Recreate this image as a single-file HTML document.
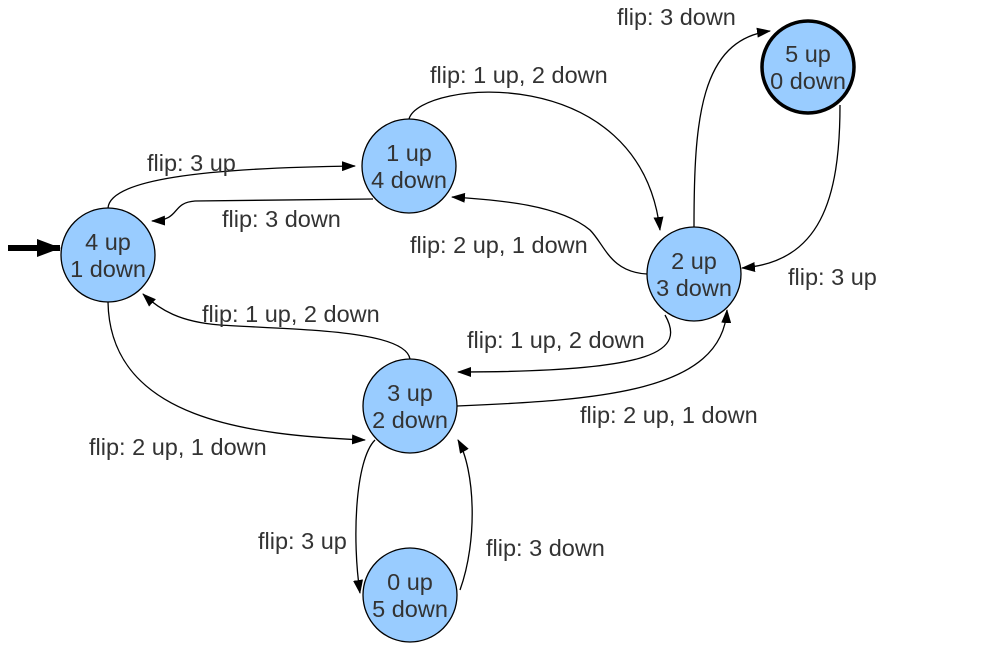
<!DOCTYPE html>
<html><head><meta charset="utf-8"><style>html,body{margin:0;padding:0;background:#fff}</style></head>
<body>
<svg width="987" height="644" viewBox="0 0 987 644" xmlns="http://www.w3.org/2000/svg" font-family="Liberation Sans, sans-serif" font-size="23.5">
<defs>
<marker id="a" markerWidth="14" markerHeight="10" refX="13" refY="5" orient="auto" markerUnits="userSpaceOnUse"><path d="M0,0 L14,5 L0,10 z" fill="#000"/></marker>
<marker id="b" markerWidth="24" markerHeight="18" refX="23" refY="9" orient="auto" markerUnits="userSpaceOnUse"><path d="M0,0 L24,9 L0,18 z" fill="#000"/></marker>
</defs>
<g fill="none" stroke="#000" stroke-width="1.3" marker-end="url(#a)">
<path d="M108,208 C110,180 200,168 355,166"/>
<path d="M373,199 L195,201 C170,203 182,220 152,221"/>
<path d="M409,119 C420,80 640,60 660,230"/>
<path d="M647,274 C610,272 605,245 590,230 C560,205 500,200 452,197"/>
<path d="M694,227 C694,120 700,40 770,31"/>
<path d="M840,105 C840,200 820,262 742,268"/>
<path d="M410,359 C405,330 300,330 220,325 C180,322 160,310 143,294"/>
<path d="M108,302 C110,420 250,435 365,440"/>
<path d="M665,315 C685,350 660,372 458,372"/>
<path d="M457,406 C600,400 722,392 727,310"/>
<path d="M375,440 C355,460 352,540 360,593"/>
<path d="M460,590 C478,540 475,470 458,440"/>
</g>
<line x1="8" y1="248" x2="60" y2="248" stroke="#000" stroke-width="6" marker-end="url(#b)"/>
<g fill="#99ccff" stroke="#000" stroke-width="1.3">
<circle cx="108" cy="255" r="47"/>
<circle cx="409" cy="166" r="47"/>
<circle cx="694" cy="274" r="47"/>
<circle cx="410" cy="406" r="47"/>
<circle cx="410" cy="595" r="47"/>
<circle cx="808" cy="67" r="46" stroke-width="3.5"/>
</g>
<g fill="#333" text-anchor="middle" dominant-baseline="central">
<text x="108" y="242">4 up</text><text x="108" y="269">1 down</text>
<text x="409" y="153">1 up</text><text x="409" y="180">4 down</text>
<text x="694" y="261">2 up</text><text x="694" y="288">3 down</text>
<text x="410" y="393">3 up</text><text x="410" y="420">2 down</text>
<text x="410" y="582">0 up</text><text x="410" y="609">5 down</text>
<text x="808" y="54">5 up</text><text x="808" y="81">0 down</text>
</g>
<g fill="#333" dominant-baseline="central">
<text x="147" y="163">flip: 3 up</text>
<text x="222" y="219">flip: 3 down</text>
<text x="430" y="75">flip: 1 up, 2 down</text>
<text x="410" y="245">flip: 2 up, 1 down</text>
<text x="617" y="17">flip: 3 down</text>
<text x="788" y="277">flip: 3 up</text>
<text x="202" y="314">flip: 1 up, 2 down</text>
<text x="467" y="340">flip: 1 up, 2 down</text>
<text x="580" y="415">flip: 2 up, 1 down</text>
<text x="89" y="447">flip: 2 up, 1 down</text>
<text x="258" y="541">flip: 3 up</text>
<text x="486" y="548">flip: 3 down</text>
</g>
</svg>
</body></html>
